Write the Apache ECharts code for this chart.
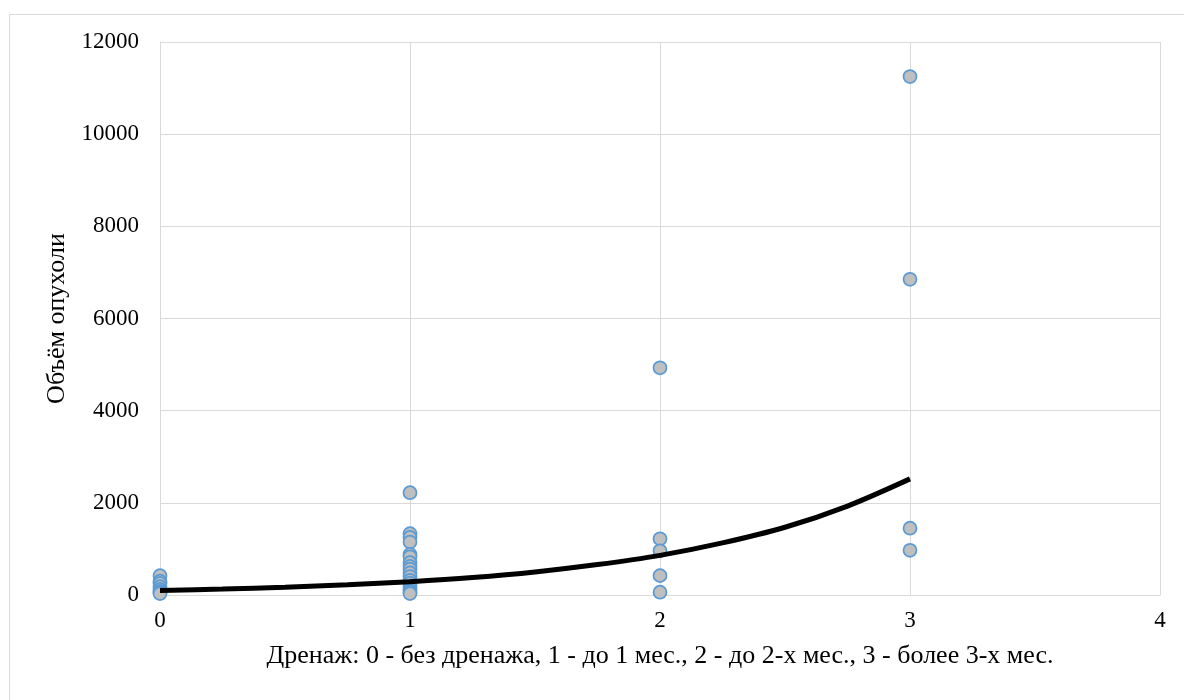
<!DOCTYPE html>
<html>
<head>
<meta charset="utf-8">
<script src="https://cdn.jsdelivr.net/npm/echarts@6/dist/echarts.min.js"></script>
<style>html,body{margin:0;padding:0;background:#fff}#c{width:1184px;height:700px}</style>
</head>
<body>
<div id="c"></div>
<script>
// Drainage group (x) and tumour volume (y)
const group0 = [420, 300, 250, 180, 120, 80, 50, 30];
const group1 = [2220, 1330, 1250, 1150, 880, 830, 700, 620, 560, 480, 400, 320, 260, 200, 150, 100, 60, 30];
const group2 = [4930, 1220, 960, 420, 60];
const group3 = [11250, 6850, 1450, 970];
const groupX = [0, 1, 2, 3];
// Trend line (exponential)
const trendX = [0, 0.25, 0.5, 0.75, 1, 1.25, 1.5, 1.75, 2, 2.25, 2.5, 2.75, 3];
const trendY = [100, 130, 170, 220, 290, 380, 500, 660, 860, 1130, 1470, 1930, 2520];
const yTicks = [0, 2000, 4000, 6000, 8000, 10000, 12000];
const xTitle = 'Дренаж: 0 - без дренажа, 1 - до 1 мес., 2 - до 2-х мес., 3 - более 3-х мес.';
const yTitle = 'Объём опухоли';

const groups = [group0, group1, group2, group3];
const points = [];
groups.forEach((g, i) => g.forEach(v => points.push([groupX[i], v])));
const trend = trendX.map((x, i) => [x, trendY[i]]);

const font = '"Liberation Serif", "Times New Roman", serif';
const chart = echarts.init(document.getElementById('c'));
chart.setOption({
  animation: false,
  backgroundColor: '#fff',
  graphic: [{
    type: 'rect', left: 7, top: 12, z: -1,
    shape: { width: 1250, height: 760 },
    style: { fill: 'none', stroke: '#d9d9d9', lineWidth: 1 }
  }],
  grid: { left: 160, right: 24, top: 42, bottom: 105 },
  xAxis: {
    type: 'value', min: 0, max: 4, interval: 1,
    name: xTitle, nameLocation: 'middle', nameGap: 48,
    nameTextStyle: { fontFamily: font, fontSize: 26, color: '#000' },
    axisLine: { show: true, lineStyle: { color: '#d9d9d9' } },
    axisTick: { show: false },
    axisLabel: { fontFamily: font, fontSize: 23, color: '#000', margin: 14 },
    splitLine: { show: true, lineStyle: { color: '#d9d9d9', width: 1 } }
  },
  yAxis: {
    type: 'value', min: 0, max: 12000, interval: 2000,
    name: yTitle, nameLocation: 'middle', nameGap: 85,
    nameTextStyle: { fontFamily: font, fontSize: 26, color: '#000' },
    axisLine: { show: true, lineStyle: { color: '#d9d9d9' } },
    axisTick: { show: false },
    axisLabel: { fontFamily: font, fontSize: 23, color: '#000', margin: 21,
      formatter: v => yTicks.includes(v) ? String(v) : '' },
    splitLine: { show: true, lineStyle: { color: '#d9d9d9', width: 1 } }
  },
  series: [
    {
      type: 'scatter', data: points, symbolSize: 13, z: 3,
      itemStyle: { color: '#bfbfbf', borderColor: '#5b9bd5', borderWidth: 1.75, opacity: 1 }
    },
    {
      type: 'line', data: trend, smooth: 0.3, symbol: 'none', z: 4,
      lineStyle: { color: '#000', width: 5, cap: 'butt' }
    }
  ]
});
</script>
</body>
</html>
